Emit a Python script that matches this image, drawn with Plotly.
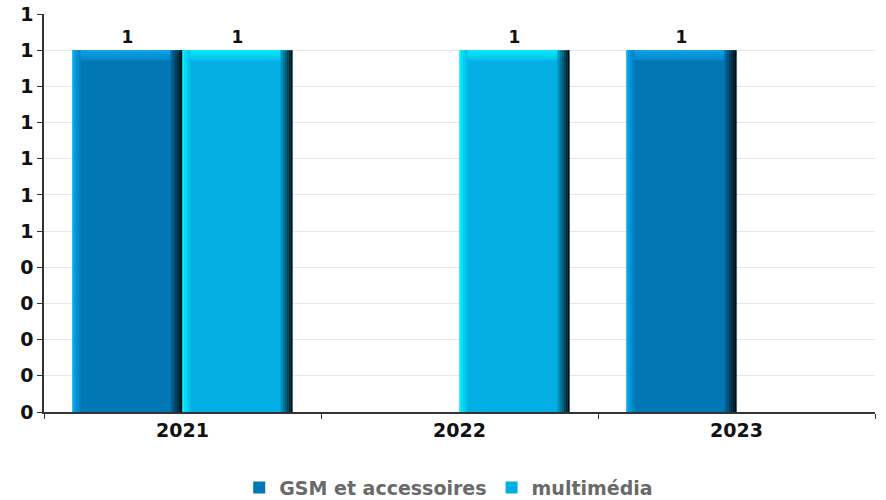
import plotly.graph_objects as go

categories = ["2021", "2022", "2023"]
gsm = [1, None, 1]
multimedia = [1, 1, None]
series_names = ["GSM et accessoires", "multimédia"]
y_ticks = [0, 0.1, 0.2, 0.3, 0.4, 0.5, 0.6, 0.7, 0.8, 0.9, 1.0, 1.1]

FONT = "DejaVu Sans"
PX = 1 / 277.0          # category units per pixel (approx.)
YPX = 1.1 / 398.0       # data units per pixel vertically (approx.)
W = 110 * PX            # bar width

fig = go.Figure()


def hexmix(a, b, t):
    a = [int(a[i:i + 2], 16) for i in (1, 3, 5)]
    b = [int(b[i:i + 2], 16) for i in (1, 3, 5)]
    return "#" + "".join("%02x" % round(x + (y - x) * t) for x, y in zip(a, b))


def add_bar(values, name, offset, body, light, top):
    present = [v if v is not None else None for v in values]
    # main body
    fig.add_trace(go.Bar(
        x=categories, y=present, name=name, offset=offset, width=W,
        marker=dict(color=body, line=dict(width=0)),
        text=[("%g" % v) if v is not None else "" for v in values],
        textposition="outside", cliponaxis=False,
        textfont=dict(family=FONT, size=17, color="#111111", weight="bold"),
        showlegend=True, hoverinfo="skip"))
    # top bevel (gradient, top -> body)
    nt = 5
    th = 2 * YPX
    for i in range(nt):
        t = i / nt
        fig.add_trace(go.Bar(
            x=categories,
            y=[th if v is not None else None for v in values],
            base=[v - (i + 1) * th if v is not None else None for v in values],
            offset=offset + (2 + i) * PX, width=W - (6 + 2 * i) * PX,
            marker=dict(color=hexmix(top, body, t * 0.7), line=dict(width=0)),
            showlegend=False, hoverinfo="skip"))
    # left light gradient strips
    nl = 4
    for i in range(nl):
        t = i / nl
        fig.add_trace(go.Bar(
            x=categories, y=present, offset=offset + i * 2 * PX, width=2 * PX,
            marker=dict(color=hexmix(light, body, t), line=dict(width=0)),
            showlegend=False, hoverinfo="skip"))
    # right dark gradient strips
    nd = 6
    sw = 2 * PX
    for i in range(nd):
        t = (i + 1) / nd
        fig.add_trace(go.Bar(
            x=categories, y=present,
            offset=offset + W - (nd - i) * sw, width=sw,
            marker=dict(color=hexmix(body, "#000000", t * 0.95), line=dict(width=0)),
            showlegend=False, hoverinfo="skip"))


add_bar(gsm, series_names[0], -W, "#0277b5", "#06acf5", "#08a4ee")
add_bar(multimedia, series_names[1], 0, "#02aee3", "#08f4ff", "#06ecff")

fig.update_layout(
    width=886, height=500,
    margin=dict(l=44, r=11, t=14, b=88, autoexpand=False),
    barmode="overlay",
    plot_bgcolor="white", paper_bgcolor="white",
    font=dict(family=FONT, color="#111111"),
    showlegend=True,
    legend=dict(orientation="h", x=0.487, xanchor="center", y=-0.19,
                yanchor="middle",
                font=dict(family=FONT, size=19, color="#6a6a6a", weight="bold"),
                traceorder="normal"),
    xaxis=dict(type="category", showgrid=False, showline=True,
               linecolor="#333333", linewidth=1.5, automargin=False,
               ticks="outside", tickson="boundaries", ticklen=5,
               tickcolor="#333333",
               tickfont=dict(family=FONT, size=19, color="#111111", weight="bold"),
               range=[-0.5, 2.5]),
    yaxis=dict(range=[0, 1.1], tickvals=y_ticks, tickformat=".0f",
               showgrid=True, gridcolor="#e6e6e6", gridwidth=1,
               showline=True, linecolor="#333333", linewidth=1.5,
               ticks="outside", ticklen=5, tickcolor="#333333",
               zeroline=False, automargin=False, ticklabeloverflow="allow",
               tickfont=dict(family=FONT, size=19, color="#111111", weight="bold")),
)

fig.write_html("out.html",
               config={"displayModeBar": False},
               post_script="document.body.style.margin='0';document.body.style.overflow='hidden';")
